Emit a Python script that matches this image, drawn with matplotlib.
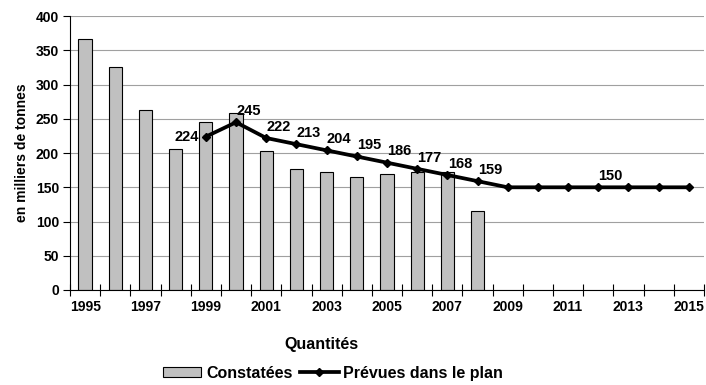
import numpy as np
import matplotlib.pyplot as plt
from matplotlib.lines import Line2D
from matplotlib.patches import Patch

plt.rcParams['font.family'] = ['Liberation Sans', 'DejaVu Sans']
plt.rcParams['font.weight'] = 'bold'

years = list(range(1995, 2016))
constatees = [366, 326, 263, 206, 245, 259, 203, 177, 172, 165, 169, 173, 172, 116]
prevues_years = list(range(1999, 2016))
prevues = [224, 245, 222, 213, 204, 195, 186, 177, 168, 159,
           150, 150, 150, 150, 150, 150, 150]
# which points of the plan carry a value label
label_years = [1999, 2000, 2001, 2002, 2003, 2004, 2005, 2006, 2007, 2008, 2012]

FS = 10
FS_BIG = 11.5


def main():
    fig = plt.figure(figsize=(7.06, 3.85), dpi=100)
    ax = fig.add_axes([0.0992, 0.2468, 0.8978, 0.7112])

    xb = np.arange(len(constatees))
    ax.bar(xb, constatees, width=0.44, color='#c0c0c0', edgecolor='black',
           linewidth=0.8, zorder=2)

    xl = np.array([years.index(y) for y in prevues_years])
    ax.plot(xl, prevues, color='black', linewidth=2.7, marker='D',
            markersize=4.5, zorder=3)

    for y in label_years:
        i = prevues_years.index(y)
        v = prevues[i]
        if y == 1999:
            ax.annotate(str(v), (xl[i], v), xytext=(-5, 0), textcoords='offset points',
                        ha='right', va='center', fontsize=10.5, fontweight='bold')
        else:
            ax.annotate(str(v), (xl[i], v), xytext=(9, 3), textcoords='offset points',
                        ha='center', va='bottom', fontsize=10.5, fontweight='bold')

    ax.set_ylim(0, 400)
    ax.set_yticks(np.arange(0, 401, 50))
    ax.yaxis.grid(True, color='#a0a0a0', linewidth=0.8, zorder=0)
    ax.set_axisbelow(True)

    ax.set_xlim(-0.5, len(years) - 0.5)
    ax.set_xticks(np.arange(-0.5, len(years), 1.0))
    ax.set_xticklabels([])
    ax.set_xticks(np.arange(0, len(years), 2), minor=True)
    ax.set_xticklabels([str(y) for y in years[::2]], minor=True)
    ax.tick_params(axis='x', which='major', length=8, width=0.8, direction='inout')
    ax.tick_params(axis='x', which='minor', length=0, pad=7, labelsize=FS)
    ax.tick_params(axis='y', length=5, width=0.8, labelsize=FS, pad=3)
    for lab in ax.get_xticklabels(minor=True) + ax.get_yticklabels():
        lab.set_fontweight('bold')

    for side in ['top', 'right']:
        ax.spines[side].set_visible(False)
    ax.spines['left'].set_linewidth(0.8)
    ax.spines['bottom'].set_linewidth(0.8)

    ax.set_ylabel('en milliers de tonnes', fontsize=FS, fontweight='bold', labelpad=5)
    fig.text(0.455, 0.104, 'Quantités', ha='center', va='center',
             fontsize=FS_BIG, fontweight='bold')

    handles = [Patch(facecolor='#c0c0c0', edgecolor='black', linewidth=0.8),
               Line2D([], [], color='black', linewidth=2.7, marker='D', markersize=4)]
    fig.legend(handles, ['Constatées', 'Prévues dans le plan'], loc='center',
               bbox_to_anchor=(0.4717, 0.031), ncol=2, frameon=False,
               prop={'size': FS_BIG, 'weight': 'bold'}, handlelength=2.4,
               handletextpad=0.3, columnspacing=0.5, handleheight=0.63,
               borderpad=0.1)

    fig.savefig('out.png', dpi=100)


if __name__ == '__main__':
    main()
